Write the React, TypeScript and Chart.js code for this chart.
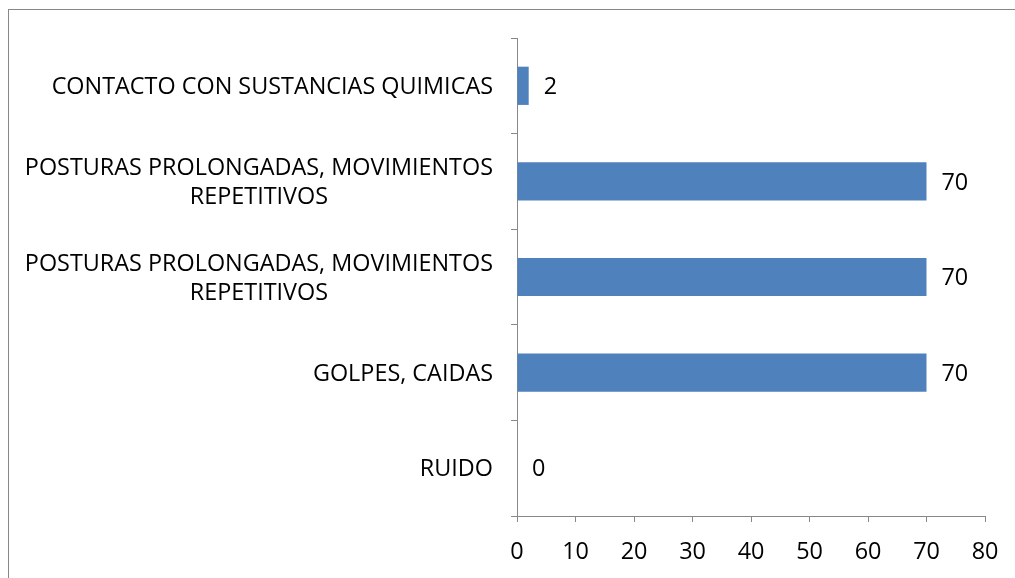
import React, { useEffect, useRef } from "react";
import { Chart, registerables } from "chart.js";

Chart.register(...registerables);

const categories: (string | string[])[] = [
  "CONTACTO CON SUSTANCIAS QUIMICAS",
  ["POSTURAS PROLONGADAS, MOVIMIENTOS", "REPETITIVOS"],
  ["POSTURAS PROLONGADAS, MOVIMIENTOS", "REPETITIVOS"],
  "GOLPES, CAIDAS",
  "RUIDO",
];
const values: number[] = [2, 70, 70, 70, 0];
const xMin = 0;
const xMax = 80;
const xStep = 10;

const FONT = '"Open Sans", "Liberation Sans", sans-serif';
const FONT_SIZE = 23.4;
const AXIS_COLOR = "#888888";
const BAR_COLOR = "#4F81BD";

const yLabelPlugin = {
  id: "yLabelPlugin",
  afterDraw(chart: any) {
    const ctx = chart.ctx;
    const y = chart.scales.y;
    ctx.save();
    ctx.font = `${FONT_SIZE}px ${FONT}`;
    ctx.fillStyle = "#000";
    ctx.textBaseline = "middle";
    ctx.textAlign = "center";
    const rightX = y.right - 24;
    const lh = 29;
    categories.forEach((lab, i) => {
      const lines = Array.isArray(lab) ? lab : [lab];
      const widest = Math.max(...lines.map((l) => ctx.measureText(l).width));
      const cy = y.getPixelForTick(i) + 1.5;
      lines.forEach((l, j) => {
        const off = (j - (lines.length - 1) / 2) * lh;
        ctx.fillText(l, rightX - widest / 2, cy + off);
      });
    });
    ctx.restore();
  },
};

const valueLabelPlugin = {
  id: "valueLabelPlugin",
  afterDatasetsDraw(chart: any) {
    const ctx = chart.ctx;
    const meta = chart.getDatasetMeta(0);
    ctx.save();
    ctx.font = `${FONT_SIZE}px ${FONT}`;
    ctx.fillStyle = "#000";
    ctx.textBaseline = "middle";
    ctx.textAlign = "left";
    meta.data.forEach((el: any, i: number) => {
      ctx.fillText(String(values[i]), el.x + 15, el.y + 1.5);
    });
    ctx.restore();
  },
};

export default function App() {
  const ref = useRef<HTMLCanvasElement>(null);
  useEffect(() => {
    if (!ref.current) return;
    const chart = new Chart(ref.current, {
      type: "bar",
      data: {
        labels: categories as any,
        datasets: [
          {
            data: values,
            backgroundColor: BAR_COLOR,
            borderWidth: 0,
            barPercentage: 0.4,
            categoryPercentage: 1,
          },
        ],
      },
      options: {
        indexAxis: "y",
        animation: false,
        responsive: false,
        layout: { padding: { top: 38, right: 30, left: 0, bottom: 0 } },
        plugins: { legend: { display: false }, tooltip: { enabled: false } },
        scales: {
          y: {
            type: "category",
            grid: {
              offset: true,
              drawOnChartArea: false,
              tickLength: 6,
              color: AXIS_COLOR,
            },
            border: { color: AXIS_COLOR },
            ticks: { color: "rgba(0,0,0,0)", font: { size: FONT_SIZE, family: FONT } },
            afterFit(scale: any) {
              scale.width = 517;
            },
          },
          x: {
            type: "linear",
            min: xMin,
            max: xMax,
            grid: { drawOnChartArea: false, tickLength: 6, color: AXIS_COLOR },
            border: { color: AXIS_COLOR },
            ticks: {
              stepSize: xStep,
              color: "#000",
              padding: 16,
              font: { size: FONT_SIZE, family: FONT },
            },
            afterFit(scale: any) {
              scale.height = 62;
            },
          },
        },
      },
      plugins: [yLabelPlugin, valueLabelPlugin],
    });
    return () => chart.destroy();
  }, []);
  return (
    <div
      style={{
        position: "fixed",
        left: 0,
        top: 0,
        width: 1015,
        height: 578,
        overflow: "hidden",
        background: "#fff",
      }}
    >
      <div
        style={{
          position: "absolute",
          left: 8,
          top: 9,
          width: 2000,
          height: 2000,
          border: `1px solid ${AXIS_COLOR}`,
        }}
      />
      <canvas
        ref={ref}
        width={1015}
        height={578}
        style={{ position: "absolute", left: 0, top: 0, width: 1015, height: 578 }}
      />
    </div>
  );
}
